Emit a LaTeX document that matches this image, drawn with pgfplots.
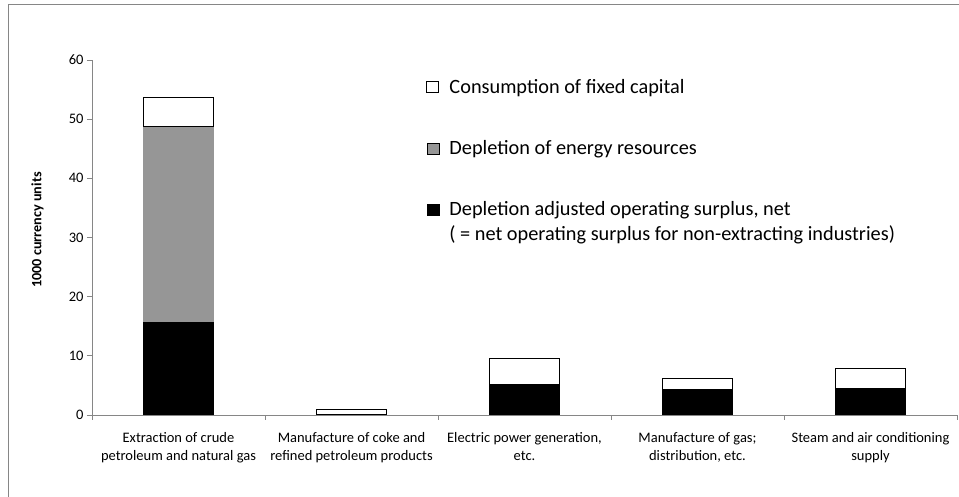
\documentclass[border=0pt]{standalone}
\usepackage{pgfplots}
\pgfplotsset{compat=1.18}
\usepackage{fontspec}
\setmainfont{Carlito}
\definecolor{axgray}{RGB}{134,134,134}
\definecolor{depgray}{RGB}{150,150,150}
\begin{document}
\begin{tikzpicture}
\begin{axis}[
  scale only axis, width=865pt, height=355pt,
  at={(0pt,0pt)}, anchor=south west,
  ybar stacked, bar width=70.6pt,
  xmin=-0.5, xmax=4.5, ymin=0, ymax=60,
  axis x line*=bottom, axis y line*=left,
  axis line style={axgray, line width=0.8pt},
  tick style={axgray, line width=0.8pt},
  tick align=outside, major tick length=5pt, minor tick length=5pt,
  ytick={0,10,...,60},
  xtick={0,1,2,3,4},
  major x tick style={draw=none},
  minor xtick={-0.5,0.5,1.5,2.5,3.5,4.5},
  xticklabels={{Extraction of crude\\petroleum and natural gas},
    {Manufacture of coke and\\refined petroleum products},
    {Electric power generation,\\etc.},
    {Manufacture of gas;\\distribution, etc.},
    {Steam and air conditioning\\supply}},
  xticklabel style={align=center, font=\fontsize{14.5}{18}\selectfont, yshift=-9pt},
  yticklabel style={font=\fontsize{14.5}{17}\selectfont},
  /pgf/number format/assume math mode=true,
  ylabel={\textbf{1000 currency units}},
  ylabel style={at={(axis description cs:-0.063,0.521)}, anchor=center, font=\fontsize{14.2}{17}\selectfont},
  reverse legend,
  legend image code/.code={\draw[#1] (0pt,1pt) rectangle (12pt,12pt);},
  legend style={at={(axis description cs:0.383,0.951)}, anchor=north west,
    draw=none, fill=none, font=\fontsize{20.3}{25}\selectfont,
    row sep=45.5pt, column sep=10pt,
    nodes={inner sep=0pt},
    cells={anchor=base west}},
]
\addplot[fill=black, draw=none] coordinates {(0,15.7) (1,0) (2,5.2) (3,4.35) (4,4.5)};
\addlegendentry{\vtop{\hbox{Depletion adjusted operating surplus, net}\hbox{( = net operating surplus for non-extracting industries)}}}
\addplot[fill=depgray, draw=none] coordinates {(0,33.0) (1,0) (2,0) (3,0) (4,0)};
\addlegendentry{Depletion of energy resources}
\addplot[fill=white, draw=black, line width=1pt] coordinates {(0,4.9) (1,0.9) (2,4.3) (3,1.9) (4,3.4)};
\addlegendentry{Consumption of fixed capital}
\end{axis}
\draw[axgray, line width=0.8pt] (-83.5pt,-90pt) -- (-83.5pt,410.5pt) -- (880pt,410.5pt);
\pgfresetboundingbox
\useasboundingbox (-92pt,-82pt) rectangle (867pt,415pt);
\end{tikzpicture}
\end{document}
